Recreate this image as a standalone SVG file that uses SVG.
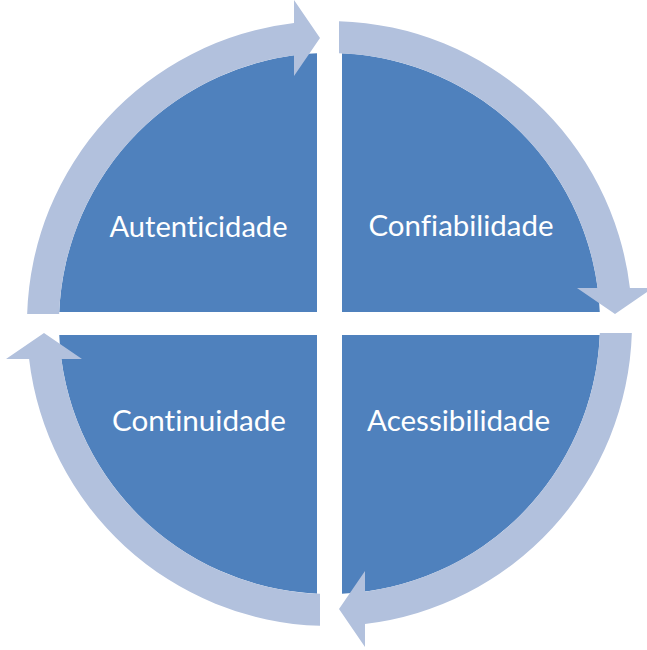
<svg xmlns="http://www.w3.org/2000/svg" width="647" height="650" viewBox="0 0 647 650">
  <defs>
    <style>
      .quad { fill: #4F81BD; }
      .arrow { fill: #B2C1DD; }
      .label { fill: #FFFFFF; font-family: Lato, "Open Sans", "Liberation Sans", sans-serif; font-size: 29px; text-anchor: middle; font-variant-ligatures: none; font-feature-settings: "liga" 0, "dlig" 0; }
    </style>
    <path id="arrowShape" d="M 9.5,-302.35 A 302.5 302.5 0 0 1 300.41,-35.5 L 323.5,-35.5 L 285.5,-9.5 L 247.5,-35.5 L 268.16,-35.5 A 270.5 270.5 0 0 0 9.5,-270.33 Z"/>
  </defs>
  <rect width="647" height="650" fill="#FFFFFF"/>
  <g transform="translate(329.5,323.5)">
    <g id="autenticidade">
      <path class="quad" d="M -12.5,-11.5 L -270.26,-11.5 A 270.5 270.5 0 0 1 -12.5,-270.21 Z"/>
      <text class="label" x="-131" y="-87" textLength="178" lengthAdjust="spacingAndGlyphs">Autenticidade</text>
    </g>
    <g id="confiabilidade">
      <path class="quad" d="M 12.5,-11.5 L 12.5,-270.21 A 270.5 270.5 0 0 1 270.26,-11.5 Z"/>
      <text class="label" x="131.5" y="-88" textLength="185" lengthAdjust="spacingAndGlyphs">Confiabilidade</text>
    </g>
    <g id="acessibilidade">
      <path class="quad" d="M 12.5,11.5 L 270.26,11.5 A 270.5 270.5 0 0 1 12.5,270.21 Z"/>
      <text class="label" x="129" y="107.5" textLength="183" lengthAdjust="spacingAndGlyphs">Acessibilidade</text>
    </g>
    <g id="continuidade">
      <path class="quad" d="M -12.5,11.5 L -12.5,270.21 A 270.5 270.5 0 0 1 -270.26,11.5 Z"/>
      <text class="label" x="-130.5" y="107.5" textLength="174" lengthAdjust="spacingAndGlyphs">Continuidade</text>
    </g>
    <g id="connectors">
      <use href="#arrowShape" class="arrow"/>
      <use href="#arrowShape" class="arrow" transform="rotate(90)"/>
      <use href="#arrowShape" class="arrow" transform="rotate(180)"/>
      <use href="#arrowShape" class="arrow" transform="rotate(270)"/>
    </g>
  </g>
</svg>
